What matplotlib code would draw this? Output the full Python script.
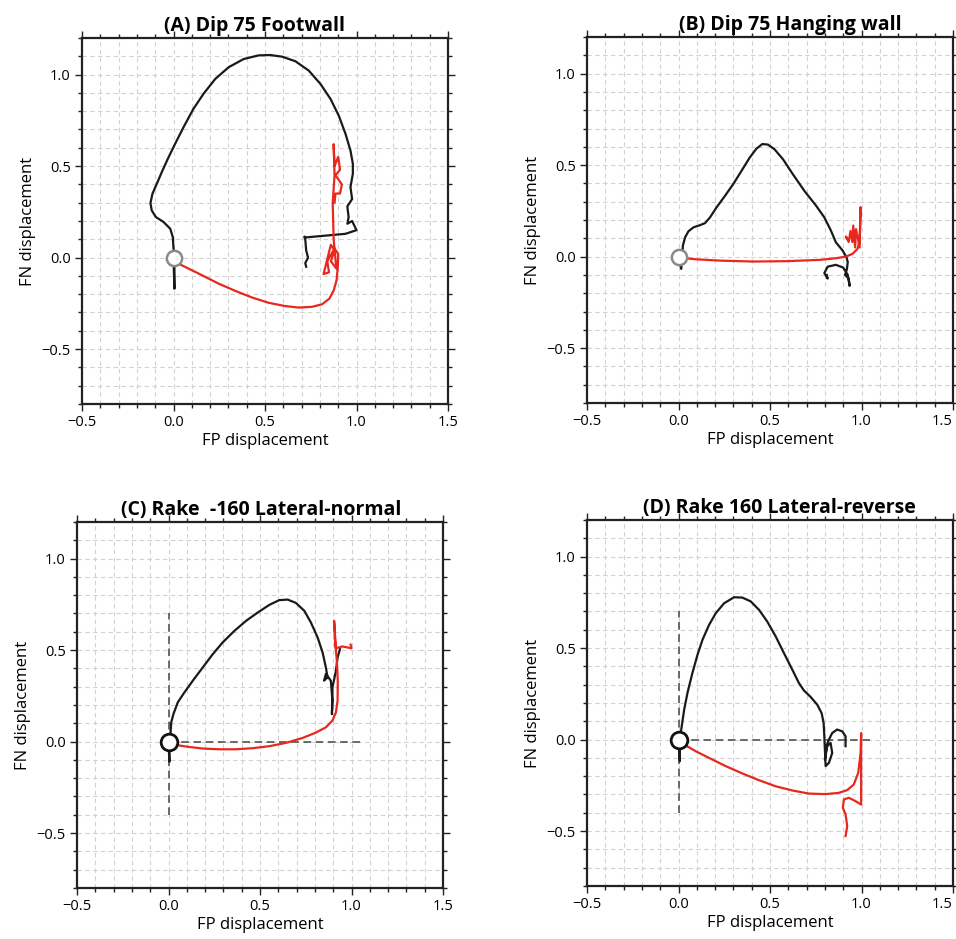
import numpy as np
import matplotlib.pyplot as plt
from matplotlib.ticker import MultipleLocator

plt.rcParams['font.family'] = ['Open Sans', 'DejaVu Sans']

titles = ['(A) Dip 75 Footwall', '(B) Dip 75 Hanging wall',
          '(C) Rake  -160 Lateral-normal', '(D) Rake 160 Lateral-reverse']

# (A) footwall
a_fn_x = [0.0, 0.005, 0.005, 0.0, -0.004, -0.018, -0.055, -0.097, -0.119, -0.126, -0.115, -0.091, -0.064,
          -0.031, 0.009, 0.055, 0.109, 0.164, 0.228, 0.301, 0.383, 0.465, 0.529, 0.593, 0.666, 0.739,
          0.803, 0.858, 0.903, 0.94, 0.967, 0.98, 0.98, 0.967, 0.976, 0.95, 0.957, 0.95, 0.976,
          1.0, 0.94, 0.83, 0.72, 0.715, 0.72, 0.725, 0.735, 0.72, 0.725]
a_fn_y = [0.0, -0.17, 0.0, 0.05, 0.113, 0.158, 0.195, 0.222, 0.258, 0.298, 0.349, 0.404, 0.467,
          0.54, 0.622, 0.713, 0.813, 0.895, 0.976, 1.04, 1.085, 1.105, 1.107, 1.098, 1.073, 1.022,
          0.949, 0.867, 0.776, 0.676, 0.585, 0.513, 0.458, 0.385, 0.32, 0.28, 0.22, 0.185, 0.20,
          0.15, 0.13, 0.12, 0.11, 0.115, 0.10, 0.04, 0.0, -0.03, -0.05]
a_fp_x = [0.0, 0.027, 0.082, 0.155, 0.246, 0.338, 0.429, 0.52, 0.611, 0.684, 0.757, 0.812, 0.852, 0.876,
          0.891, 0.898, 0.90, 0.88, 0.84, 0.85, 0.82, 0.86, 0.88, 0.86, 0.89, 0.875, 0.87, 0.88, 0.875,
          0.88, 0.90, 0.91, 0.885, 0.92, 0.91, 0.885, 0.88]
a_fp_y = [0.0, -0.033, -0.06, -0.096, -0.142, -0.182, -0.218, -0.247, -0.265, -0.273, -0.269, -0.255,
          -0.224, -0.178, -0.124, -0.051, 0.02, 0.05, -0.02, -0.08, -0.09, 0.07, 0.04, -0.02, -0.06,
          0.10, 0.30, 0.45, 0.62, 0.50, 0.55, 0.48, 0.45, 0.40, 0.35, 0.35, 0.30]

# (B) hanging wall
b_fn_x = [0.0, 0.015, 0.02, 0.024, 0.036, 0.054, 0.082, 0.118, 0.145, 0.172, 0.208, 0.254, 0.299, 0.344,
          0.389, 0.426, 0.458, 0.489, 0.525, 0.571, 0.625, 0.688, 0.752, 0.797, 0.833, 0.86, 0.897,
          0.918, 0.925, 0.92, 0.91, 0.93, 0.935, 0.925, 0.90, 0.86, 0.815, 0.797, 0.815, 0.81]
b_fn_y = [0.0, -0.067, 0.0, 0.06, 0.105, 0.138, 0.16, 0.172, 0.183, 0.214, 0.269, 0.332, 0.396, 0.468,
          0.541, 0.59, 0.615, 0.612, 0.586, 0.532, 0.45, 0.359, 0.278, 0.214, 0.142, 0.078, 0.033,
          -0.004, -0.03, -0.07, -0.10, -0.12, -0.16, -0.10, -0.06, -0.045, -0.055, -0.09, -0.12, -0.10]
b_fp_x = [0.0, 0.036, 0.1, 0.227, 0.408, 0.589, 0.77, 0.86, 0.915, 0.951, 0.978, 0.99, 0.995, 0.99,
          0.97, 0.965, 0.955, 0.95, 0.94, 0.93, 0.915, 0.92]
b_fp_y = [0.0, -0.009, -0.015, -0.022, -0.027, -0.025, -0.018, -0.009, 0.0, 0.015, 0.042, 0.087, 0.27,
          0.05, 0.15, 0.05, 0.17, 0.08, 0.14, 0.08, 0.11, 0.10]

# (C) lateral-normal
c_fn_x = [0.0, 0.005, 0.005, 0.011, 0.015, 0.027, 0.051, 0.087, 0.133, 0.187, 0.242, 0.296, 0.36, 0.424,
          0.487, 0.551, 0.605, 0.651, 0.696, 0.742, 0.778, 0.815, 0.842, 0.86, 0.869, 0.85, 0.86, 0.887,
          0.896, 0.893, 0.896, 0.915, 0.924, 0.937]
c_fn_y = [0.0, -0.11, 0.0, 0.042, 0.105, 0.151, 0.215, 0.269, 0.333, 0.405, 0.478, 0.542, 0.605, 0.66,
          0.705, 0.747, 0.773, 0.776, 0.758, 0.715, 0.651, 0.569, 0.487, 0.405, 0.351, 0.333, 0.37,
          0.333, 0.224, 0.15, 0.296, 0.387, 0.46, 0.505]
c_fp_x = [0.0, 0.038, 0.096, 0.187, 0.278, 0.369, 0.46, 0.551, 0.642, 0.733, 0.805, 0.86, 0.896, 0.915,
          0.924, 0.925, 0.92, 0.91, 0.905, 0.915, 0.95, 1.0, 0.995]
c_fp_y = [0.0, -0.018, -0.027, -0.038, -0.042, -0.042, -0.036, -0.025, -0.007, 0.02, 0.049, 0.078, 0.115,
          0.16, 0.224, 0.333, 0.44, 0.55, 0.66, 0.51, 0.52, 0.51, 0.53]

# (D) lateral-reverse
d_fn_x = [0.0, 0.007, 0.007, 0.015, 0.031, 0.049, 0.076, 0.104, 0.131, 0.167, 0.204, 0.249, 0.304, 0.349,
          0.395, 0.44, 0.485, 0.531, 0.576, 0.622, 0.658, 0.685, 0.722, 0.758, 0.782, 0.793, 0.796,
          0.80, 0.804, 0.822, 0.84, 0.831, 0.813, 0.80, 0.81, 0.822, 0.84, 0.867, 0.895, 0.913, 0.913]
d_fn_y = [0.0, -0.118, 0.0, 0.055, 0.164, 0.255, 0.364, 0.464, 0.545, 0.627, 0.691, 0.745, 0.778, 0.776,
          0.755, 0.709, 0.645, 0.564, 0.473, 0.382, 0.309, 0.269, 0.233, 0.191, 0.145, 0.091, 0.036,
          -0.055, -0.145, -0.127, -0.073, -0.018, -0.036, -0.11, -0.03, 0.0, 0.036, 0.055, 0.045,
          0.018, -0.036]
d_fp_x = [0.0, 0.031, 0.095, 0.167, 0.258, 0.349, 0.44, 0.531, 0.622, 0.713, 0.804, 0.876, 0.922, 0.958,
          0.982, 0.995, 0.998, 0.998, 0.967, 0.931, 0.904, 0.898, 0.913, 0.922, 0.913]
d_fp_y = [0.0, -0.027, -0.064, -0.1, -0.145, -0.185, -0.222, -0.255, -0.278, -0.295, -0.298, -0.291,
          -0.276, -0.245, -0.182, -0.073, 0.036, -0.355, -0.336, -0.318, -0.327, -0.373, -0.409,
          -0.473, -0.527]

panels = [(a_fn_x, a_fn_y, a_fp_x, a_fp_y),
          (b_fn_x, b_fn_y, b_fp_x, b_fp_y),
          (c_fn_x, c_fn_y, c_fp_x, c_fp_y),
          (d_fn_x, d_fn_y, d_fp_x, d_fp_y)]

# reference cross for the rake panels
cross_v = ([0.0, 0.0], [-0.4, 0.7])
cross_h = ([0.0, 1.05], [0.0, 0.0])

W, H = 956, 939
boxes = [(82, 38), (587, 37), (77, 522), (587, 520)]
title_x = [0.47, 0.555, 0.503, 0.527]
size = 366


def fmt(v, p):
    return f'{v:.1f}'.replace('-', '\u2212')


fig = plt.figure(figsize=(W / 100, H / 100), dpi=100)

for i, (left, top) in enumerate(boxes):
    ax = fig.add_axes([left / W, 1 - (top + size) / H, size / W, size / H])
    fn_x, fn_y, fp_x, fp_y = panels[i]
    edge = left > W / 2

    ax.set_xlim(-0.5, 1.5)
    ax.set_ylim(-0.8, 1.2)
    ax.xaxis.set_major_locator(MultipleLocator(0.5))
    ax.yaxis.set_major_locator(MultipleLocator(0.5))
    ax.xaxis.set_minor_locator(MultipleLocator(0.1))
    ax.yaxis.set_minor_locator(MultipleLocator(0.1))
    ax.grid(which='both', color='#d2d2d2', linestyle='--', linewidth=0.8, dashes=(4, 3))
    ax.set_axisbelow(True)
    ax.tick_params(which='both', direction='out', top=True, right=True, labelsize=10.5,
                   color='#222222', width=1, pad=3)
    ax.tick_params(which='major', length=5)
    ax.tick_params(which='minor', length=3)
    if edge:
        # the right-hand panels run to the figure edge, so 1.5 is set flush right below
        ax.xaxis.set_major_formatter(lambda v, p: '' if v > 1.45 else fmt(v, p))
        ax.annotate('1.5', xy=(1.5, 0), xycoords=('data', 'axes fraction'), xytext=(0, -8),
                    textcoords='offset points', ha='right', va='top', fontsize=10.5)
    else:
        ax.xaxis.set_major_formatter(fmt)
    ax.yaxis.set_major_formatter(fmt)
    for s in ax.spines.values():
        s.set_linewidth(1.6)
        s.set_color('#222222')

    if i >= 2:
        ax.plot(*cross_v, color='#444444', lw=1.1, ls='--', dashes=(5, 3), zorder=2)
        ax.plot(*cross_h, color='#444444', lw=1.1, ls='--', dashes=(5, 3), zorder=2)

    ax.plot(fn_x, fn_y, color='#1a1a1a', lw=1.6, zorder=3)
    ax.plot(fp_x, fp_y, color='#e8281e', lw=1.6, zorder=3)

    if i < 2:
        ax.plot(0, 0, 'o', ms=11, mfc='white', mec='#8a8a8a', mew=1.8, zorder=4)
    else:
        ax.plot(0, 0, 'o', ms=12, mfc='white', mec='#111111', mew=2.0, zorder=4)

    ax.set_title(titles[i], fontsize=14, fontweight='bold', x=title_x[i], pad=5)
    ax.set_xlabel('FP displacement', fontsize=12, labelpad=2)
    ax.set_ylabel('FN displacement', fontsize=12, labelpad=4)

fig.savefig('out.png', dpi=100)
